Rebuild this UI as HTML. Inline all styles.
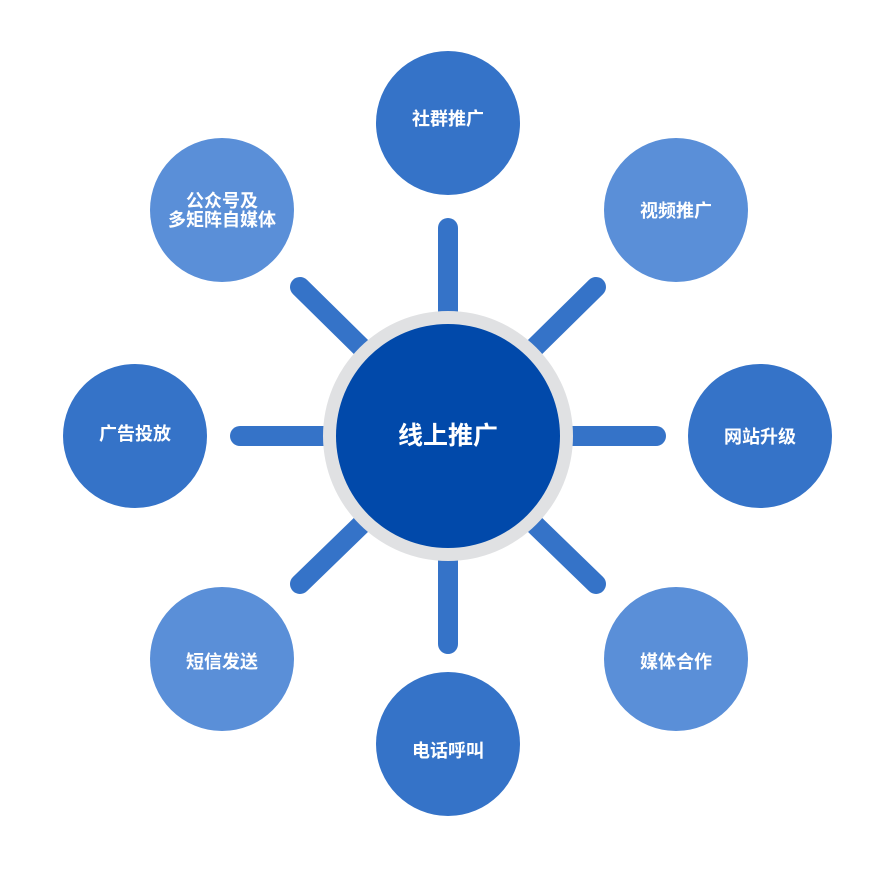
<!DOCTYPE html>
<html><head><meta charset="utf-8"><style>
html,body{margin:0;padding:0;background:#fff;}
svg{display:block;}
text{font-family:"Liberation Sans","Noto Sans CJK SC",sans-serif;fill:#fff;text-anchor:middle;dominant-baseline:central;font-weight:bold;}
</style></head><body>
<svg width="884" height="881" viewBox="0 0 884 881">
<g stroke="#3573c8" stroke-width="20" stroke-linecap="round">
<line x1="448" y1="228" x2="448" y2="315"/>
<line x1="448" y1="558" x2="448" y2="644"/>
<line x1="240" y1="436" x2="330" y2="436"/>
<line x1="568" y1="436" x2="656" y2="436"/>
<line x1="596" y1="287" x2="530" y2="352"/>
<line x1="300" y1="287" x2="366" y2="352"/>
<line x1="596" y1="584" x2="530" y2="520"/>
<line x1="300" y1="584" x2="366" y2="520"/>
</g>
<circle cx="448" cy="436" r="125" fill="#e0e1e3"/>
<circle cx="448" cy="436" r="112" fill="#0149aa"/>
<text x="448" y="436" font-size="25">线上推广</text>
<g font-size="18">
<circle cx="448" cy="123" r="72" fill="#3573c8"/><text x="448" y="119">社群推广</text>
<circle cx="676" cy="210" r="72" fill="#5a8fd8"/><text x="676" y="211">视频推广</text>
<circle cx="760" cy="436" r="72" fill="#3573c8"/><text x="760" y="437">网站升级</text>
<circle cx="676" cy="659" r="72" fill="#5a8fd8"/><text x="676" y="662">媒体合作</text>
<circle cx="448" cy="744" r="72" fill="#3573c8"/><text x="448" y="751">电话呼叫</text>
<circle cx="222" cy="659" r="72" fill="#5a8fd8"/><text x="222" y="662">短信发送</text>
<circle cx="135" cy="436" r="72" fill="#3573c8"/><text x="135" y="434">广告投放</text>
<circle cx="222" cy="210" r="72" fill="#5a8fd8"/><text x="222" y="201">公众号及</text><text x="222" y="220">多矩阵自媒体</text>
</g>
</svg>
</body></html>
